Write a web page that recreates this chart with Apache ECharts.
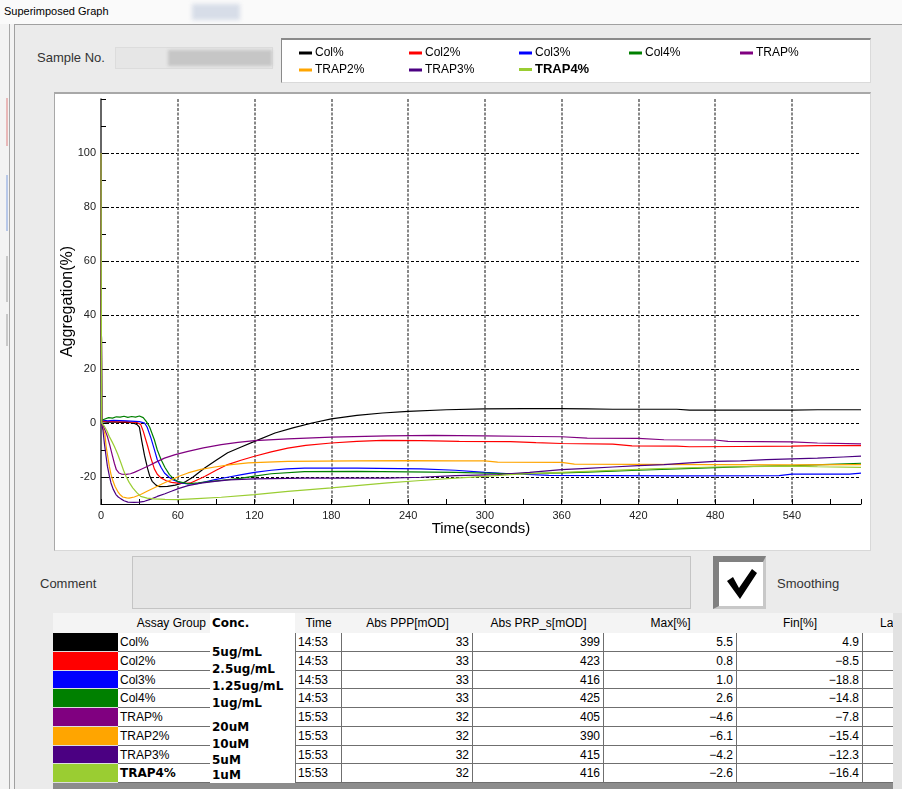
<!DOCTYPE html>
<html><head><meta charset="utf-8">
<script src="https://cdn.jsdelivr.net/npm/echarts@6/dist/echarts.min.js"></script>
<style>
body{margin:0;width:902px;height:789px;overflow:hidden;background:#f3f3f3;font-family:"Liberation Sans",Arial,sans-serif;position:relative}
.abs{position:absolute;box-sizing:border-box}
.cell{position:absolute;box-sizing:border-box;font-size:12px;line-height:18px;white-space:nowrap;overflow:hidden;color:#000}
.conc{position:absolute;font-family:"DejaVu Sans",sans-serif;font-weight:bold;font-size:12px;color:#000;white-space:nowrap;line-height:14px}
</style></head><body>
<!-- window chrome -->
<div class="abs" style="left:0;top:0;width:902px;height:24px;background:#fafafa"></div>
<div class="abs" style="left:192px;top:4px;width:48px;height:16px;background:#d7dde8;filter:blur(2px)"></div>
<div class="abs" style="left:4px;top:5px;font-size:11px;color:#000">Superimposed Graph</div>
<div class="abs" style="left:9px;top:24px;width:1px;height:765px;background:#a8a8a8"></div>
<div class="abs" style="left:6px;top:98px;width:2px;height:48px;background:#e8b8b8"></div>
<div class="abs" style="left:6px;top:175px;width:2px;height:56px;background:#b8c8e8"></div>
<div class="abs" style="left:6px;top:256px;width:2px;height:46px;background:#c8c8c8"></div>
<div class="abs" style="left:6px;top:314px;width:2px;height:32px;background:#c8c8c8"></div>
<div class="abs" style="left:14px;top:24px;width:888px;height:765px;border-left:1px solid #a0a0a0;border-top:1px solid #a0a0a0;background:#ebebeb"></div>
<!-- sample no -->
<div class="abs" style="left:37px;top:50px;font-size:13px;color:#333">Sample No.</div>
<div class="abs" style="left:115px;top:47px;width:158px;height:22px;background:#e6e6e6;border:1px solid #dcdcdc"></div>
<div class="abs" style="left:168px;top:50px;width:104px;height:16px;background:#c6c6c6;filter:blur(1.5px)"></div>
<!-- legend box and chart box -->
<div class="abs" style="left:281px;top:38px;width:590px;height:45px;background:#fff;border-top:2px solid #8a8a8a;border-left:1px solid #8a8a8a;border-right:1px solid #dadada;border-bottom:1px solid #dadada"></div>
<div class="abs" style="left:54px;top:92px;width:817px;height:459px;background:#fff;border-top:2px solid #a8a8a8;border-left:1px solid #a8a8a8;border-right:1px solid #d8d8d8;border-bottom:1px solid #d8d8d8"></div>
<!-- comment / smoothing -->
<div class="abs" style="left:40px;top:576px;font-size:13px;color:#333">Comment</div>
<div class="abs" style="left:132px;top:556px;width:559px;height:53px;background:#e6e6e6;border:1px solid #c4c4c4"></div>
<div class="abs" style="left:713px;top:556px;width:53px;height:53px;background:#fff;border-top:6px solid #808080;border-left:6px solid #808080;border-right:3px solid #c8c8c8;border-bottom:3px solid #c8c8c8"></div>
<svg class="abs" style="left:719px;top:562px" width="44" height="44"><path d="M8 19 L14 15 L20 26 L33 7 L38 11 L21 37 Z" fill="#000"/></svg>
<div class="abs" style="left:777px;top:576px;font-size:13px;color:#333">Smoothing</div>
<!-- table -->
<div id="tbl" class="abs" style="left:53px;top:613px;width:840px;height:176px;overflow:hidden;background:#fff"></div>
<div class="abs" style="left:53px;top:783px;width:840px;height:6px;background:#8c8c8c"></div>
<div class="abs" style="left:893px;top:613px;width:9px;height:176px;background:#e2e2e2"></div>
<div id="chart" class="abs" style="left:0;top:0;width:902px;height:789px;z-index:5"></div>
<script>
// ---------------- data ----------------
const seriesNames = ['Col%','Col2%','Col3%','Col4%','TRAP%','TRAP2%','TRAP3%','TRAP4%'];
const seriesColors = ['#000000','#ff0000','#0000ff','#008000','#800080','#ffa500','#4b0082','#9acd32'];
const xTickValues = [0,60,120,180,240,300,360,420,480,540];
const yTickValues = [-20,0,20,40,60,80,100];

const colData = [[0,100],[0.5,0.5],[5,0.3],[10,0.4],[15,0.2],[20,0.3],[25,0],[28,-0.5],[30,-1.5],[32,-7],[34,-12],[36.5,-17],[38,-19.5],[40,-21.6],[43,-23],[46,-23.6],[52,-23.5],[58,-23],[62,-22.5],[66,-21.8],[72,-20],[81,-16.7],[90,-13.8],[99,-11],[110,-8.8],[120,-6.8],[136,-3.7],[150,-1.8],[165,0],[180,1.5],[200,2.8],[220,3.7],[240,4.3],[270,4.9],[300,5.2],[330,5.3],[360,5.3],[380,5.2],[400,5.1],[450,5.1],[460,4.8],[500,4.8],[540,4.8],[560,4.9],[594,4.9]];
const col2Data = [[0,100],[0.5,0.8],[5,0.6],[10,0.5],[20,0.4],[28,0.2],[31,-0.5],[33,-3],[36.5,-8.6],[39,-13],[41.7,-17],[44,-19],[47,-20.4],[51,-21.4],[55,-22],[60,-22.3],[65,-22.4],[70,-22.2],[81,-19.8],[90,-17.5],[99,-15.4],[110,-13.7],[120,-12.3],[133,-10.7],[146,-9.3],[160,-8.3],[180,-7.4],[200,-6.8],[220,-6.4],[250,-6.5],[280,-6.8],[320,-6.9],[340,-7.3],[360,-7.6],[400,-7.8],[415,-8.5],[450,-8.6],[460,-8.8],[500,-8.7],[540,-8.6],[560,-8.4],[594,-8.4]];
const col3Data = [[0,100],[0.5,1.2],[5,0.8],[10,1],[20,0.8],[30,0.5],[34,0],[36,-1.5],[39,-5.5],[41.5,-9.5],[44,-13.6],[47,-16.5],[49.6,-18.5],[53,-20],[56,-21],[62.6,-22.2],[68,-22.6],[75,-22.5],[89,-21],[100,-20],[110,-19.1],[120,-18.3],[133,-17.5],[145,-17],[159,-16.7],[200,-16.7],[250,-17],[277,-17.5],[300,-18.3],[320,-18.8],[350,-19.4],[400,-19.5],[450,-19.6],[530,-19.5],[540,-18.9],[585,-18.9],[594,-18.6]];
const col4Data = [[0,100],[0.5,1],[3,1.5],[6,2],[9,1.8],[12,2.3],[15,2.2],[18,2.5],[21,2.1],[24,2.4],[27,2.2],[30,2.6],[33,2],[35.5,0.5],[38,-1.5],[41.7,-6.2],[44,-10],[47,-13.6],[50,-16.5],[53.5,-19.1],[57,-20.8],[60,-21.6],[68,-22.5],[76,-22.2],[86,-21.6],[100,-21],[110,-20.4],[120,-19.7],[133,-18.8],[159,-18],[200,-17.9],[240,-18.1],[277,-18.3],[320,-18.8],[360,-18.5],[380,-18.2],[420,-17.5],[450,-17],[480,-16.5],[510,-16.1],[540,-15.8],[570,-15.3],[594,-14.9]];
const trapData = [[0,100],[0.5,0],[1.3,-0.6],[3,-2.5],[5,-5],[7,-8.5],[9,-12.3],[10.5,-15],[12,-17.3],[14,-18.5],[16,-18.9],[19.6,-19],[23,-18.8],[26,-18.3],[31,-17.2],[36.5,-16],[43,-14.5],[49.6,-13],[58,-11.7],[68,-10.5],[80,-9.2],[94,-8],[107,-7.2],[120,-6.5],[146,-5.9],[180,-5.2],[224,-4.8],[260,-4.6],[300,-4.8],[340,-5],[360,-5.1],[380,-5.6],[420,-5.7],[440,-6.2],[480,-6.3],[490,-6.8],[540,-7],[560,-7.4],[594,-7.7]];
const trap2Data = [[0,100],[0.5,-0.5],[1.5,-1.2],[3,-4],[4,-8.6],[5.3,-12.5],[6.5,-16],[7.8,-19],[9,-21],[11,-23.5],[13,-25.3],[15,-26.6],[17,-27.4],[20,-27.7],[22,-27.8],[26,-27.4],[31,-26.5],[36,-25.3],[41.7,-24],[48,-22.5],[55,-21],[61,-19.7],[68,-18.5],[78,-17.2],[89,-16.3],[100,-15.5],[115,-14.8],[130,-14.5],[146,-14.2],[198,-14],[240,-13.9],[277,-14],[300,-14],[310,-14.5],[360,-14.6],[370,-15.2],[420,-15.3],[480,-15.4],[540,-15.5],[594,-15.4]];
const trap3Data = [[0,100],[0.5,-0.5],[1.5,-2.5],[2.6,-7.4],[4,-12.5],[5,-16],[6.5,-19.5],[7.8,-22.2],[9.5,-24.5],[11.7,-26.5],[13.5,-27.4],[15.6,-28.1],[18,-28.8],[21,-29.3],[26,-29.4],[30,-29.3],[34,-29],[39,-28.2],[44,-27.2],[50,-26.2],[55,-25.3],[61,-24.2],[68,-23.2],[78,-22.3],[89,-21.6],[100,-21.1],[120,-20.7],[159,-20.4],[224,-20.4],[250,-20.1],[277,-19.5],[310,-19.1],[335,-18.3],[360,-17.3],[380,-16.8],[400,-16.3],[420,-15.8],[440,-15.4],[460,-14.8],[480,-14.2],[500,-14],[520,-13.6],[540,-13.3],[560,-13],[580,-12.6],[594,-12.3]];
const trap4Data = [[0,100],[0.5,0],[2.6,-1.2],[4.5,-2.8],[6.5,-5],[8.5,-6.8],[10.4,-8.6],[13,-11.5],[15.6,-14.8],[17.6,-17.5],[19.6,-19.8],[22,-22],[24.8,-24],[28,-25.8],[31,-27.2],[36,-27.8],[41.7,-28.1],[50,-28.3],[60,-28.4],[75,-28],[94,-27.5],[120,-26.5],[146,-25.3],[180,-24],[224,-22.2],[250,-21.3],[277,-20.4],[300,-19.8],[320,-19.1],[350,-18.5],[380,-17.9],[430,-17],[480,-16.3],[540,-16],[560,-16.2],[594,-16.4]];
const allData = [colData,col2Data,col3Data,col4Data,trapData,trap2Data,trap3Data,trap4Data];

// table values
const concLabels = ['5ug/mL','2.5ug/mL','1.25ug/mL','1ug/mL','20uM','10uM','5uM','1uM'];
const timeLabels = ['14:53','14:53','14:53','14:53','15:53','15:53','15:53','15:53'];
const absPPP = [33,33,33,33,32,32,32,32];
const absPRP = [399,423,416,425,405,390,415,416];
const maxPct = [5.5,0.8,1.0,2.6,-4.6,-6.1,-4.2,-2.6];
const finPct = [4.9,-8.5,-18.8,-14.8,-7.8,-15.4,-12.3,-16.4];
const tableHeaders = ['Assay Group','Conc.','Time','Abs PPP[mOD]','Abs PRP_s[mOD]','Max[%]','Fin[%]','La'];

// ---------------- layout (not data) ----------------
const legendPos = [[299,47],[409,47],[519,47],[629,47],[740,47],[299,64],[409,64],[519,63]];
const colX = [0,65,157,242,289,420,551,684,810,840]; // relative to table left
const concY = [39,56,73,90,114,131,147,162];

// ---------------- table ----------------
const tbl = document.getElementById('tbl');
function cell(x,y,w,h,txt,style){const d=document.createElement('div');d.className='cell';d.style.left=x+'px';d.style.top=y+'px';d.style.width=w+'px';d.style.height=h+'px';d.style.cssText+=style||'';d.textContent=txt;tbl.appendChild(d);return d;}
const fmt = v => v.toFixed(1).replace('-','\u2212');
cell(0,0,840,20,'', 'background:#f4f4f4;');
cell(colX[0],1,colX[2]-4,18,tableHeaders[0],'text-align:right;');
cell(colX[2],0,colX[3]-colX[2],172,'', 'background:#fff;');
cell(colX[2]+2,1,80,18,tableHeaders[1],'font-family:"DejaVu Sans",sans-serif;font-weight:bold;');
cell(colX[3],1,colX[4]-colX[3],18,tableHeaders[2],'text-align:center;');
cell(colX[4],1,colX[5]-colX[4],18,tableHeaders[3],'text-align:center;');
cell(colX[5],1,colX[6]-colX[5],18,tableHeaders[4],'text-align:center;');
cell(colX[6],1,colX[7]-colX[6],18,tableHeaders[5],'text-align:center;');
cell(colX[7],1,colX[8]-colX[7],18,tableHeaders[6],'text-align:center;');
cell(colX[8]+17,1,40,18,tableHeaders[7],'');
const bd = '#6f6f6f';
for (let i=0;i<seriesNames.length;i++){
  const y = Math.round(20 + i*18.75), h = Math.round(20+(i+1)*18.75) - y;
  cell(colX[0],y,colX[1],h,'', 'background:'+seriesColors[i]+';border-bottom:1px solid #ddd;');
  cell(colX[1],y,colX[2]-colX[1],h,seriesNames[i],'padding-left:2px;border-bottom:1px solid '+bd+';'+(i===7?'font-family:"DejaVu Sans",sans-serif;font-weight:bold;font-size:12px;':''));
  cell(colX[3],y,colX[4]-colX[3],h,timeLabels[i],'padding-left:2px;border-left:1px solid '+bd+';border-right:1px solid '+bd+';border-bottom:1px solid '+bd+';');
  cell(colX[4],y,colX[5]-colX[4],h,String(absPPP[i]),'text-align:right;padding-right:3px;border-right:1px solid '+bd+';border-bottom:1px solid '+bd+';');
  cell(colX[5],y,colX[6]-colX[5],h,String(absPRP[i]),'text-align:right;padding-right:3px;border-right:1px solid '+bd+';border-bottom:1px solid '+bd+';');
  cell(colX[6],y,colX[7]-colX[6],h,fmt(maxPct[i]),'text-align:right;padding-right:3px;border-right:1px solid '+bd+';border-bottom:1px solid '+bd+';');
  cell(colX[7],y,colX[8]-colX[7],h,fmt(finPct[i]),'text-align:right;padding-right:3px;border-right:1px solid '+bd+';border-bottom:1px solid '+bd+';');
  cell(colX[8],y,colX[9]-colX[8],h,'', 'border-bottom:1px solid '+bd+';');
}
for (let i=0;i<concLabels.length;i++){
  const d=document.createElement('div');d.className='conc';d.style.left=(colX[2]+2)+'px';d.style.top=(concY[i]-7)+'px';d.textContent=concLabels[i];tbl.appendChild(d);
}

// ---------------- chart ----------------
const chart = echarts.init(document.getElementById('chart'), null, {renderer:'canvas'});
const legends = seriesNames.map((n,i)=>({
  data:[n], left:legendPos[i][0], top:legendPos[i][1], padding:0, itemWidth:13, itemHeight:3, itemGap:0,
  icon:'rect', selectedMode:false,
  textStyle:{fontSize:i===7?13:12, fontWeight:i===7?'bold':'normal', color:'#000', fontFamily:'"Liberation Sans",Arial,sans-serif', padding:[0,0,0,-2]}
}));
const option = {
  animation:false,
  backgroundColor:'transparent',
  legend: legends,
  grid:{left:101, right:41, top:99, bottom:285, containLabel:false},
  xAxis:{
    type:'value', min:0, max:594, interval:60,
    name:'Time(seconds)', nameLocation:'middle', nameGap:17, nameMoveOverlap:false,
    nameTextStyle:{fontSize:15, color:'#000', fontFamily:'"Liberation Sans",Arial,sans-serif'},
    axisLine:{show:true, onZero:false, lineStyle:{color:'#000', width:1}},
    axisTick:{show:true, inside:true, length:5, lineStyle:{color:'#000'}},
    minorTick:{show:true, splitNumber:2, length:5, lineStyle:{color:'#000'}},
    axisLabel:{margin:6, fontSize:11, color:'#222', fontFamily:'"Liberation Sans",Arial,sans-serif',
      formatter:v=> xTickValues.indexOf(v)>=0 ? String(v) : ''},
    splitLine:{show:true, showMinLine:false, showMaxLine:false, lineStyle:{color:'#606060', width:1.5, type:[3,1.5]}}
  },
  yAxis:{
    type:'value', min:-30, max:120, interval:10,
    name:'Aggregation(%)', nameLocation:'middle', nameGap:25, nameRotate:90, nameMoveOverlap:false,
    nameTextStyle:{fontSize:16, color:'#000', fontFamily:'"Liberation Sans",Arial,sans-serif'},
    axisLine:{show:true, onZero:false, lineStyle:{color:'#333', width:1.5}},
    axisTick:{show:true, inside:true, length:5, lineStyle:{color:'#000'}},
    axisLabel:{margin:5, fontSize:11, color:'#222', fontFamily:'"Liberation Sans",Arial,sans-serif',
      formatter:v=> yTickValues.indexOf(v)>=0 ? String(v) : ''},
    splitLine:{show:true, showMinLine:false, showMaxLine:false, lineStyle:{color:['#000','rgba(0,0,0,0)'], width:1, type:[3,2]}}
  },
  series: seriesNames.map((n,i)=>({
    name:n, type:'line', data:allData[i], showSymbol:false, symbol:'none', clip:true,
    lineStyle:{width:1.2, color:seriesColors[i]}, itemStyle:{color:seriesColors[i]}
  }))
};
chart.setOption(option);
</script>
</body></html>
